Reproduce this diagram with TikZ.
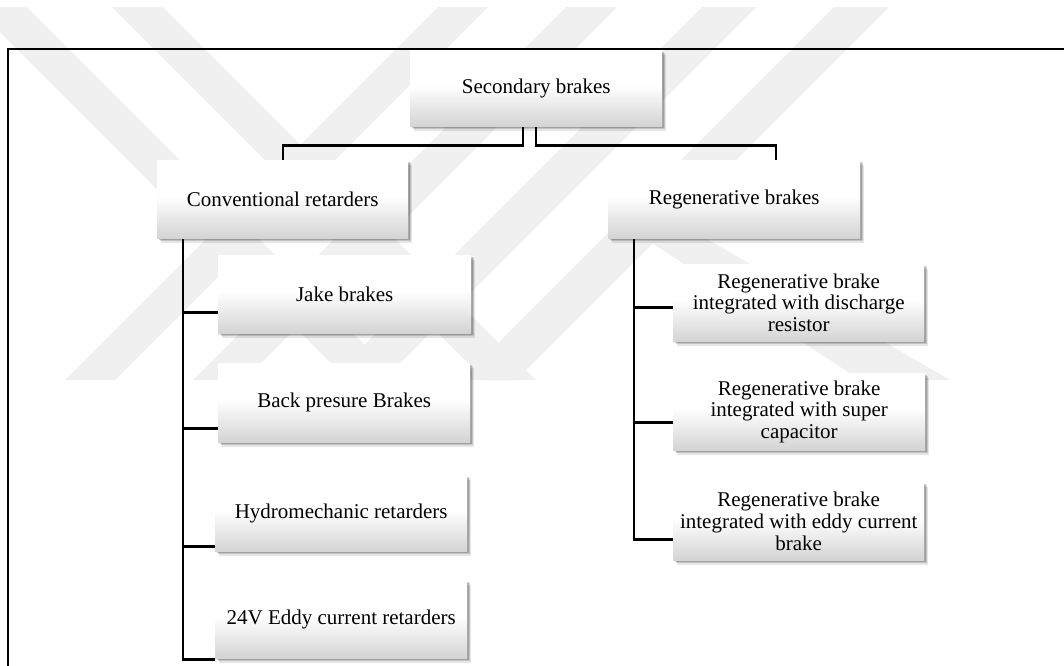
\documentclass[tikz,border=0pt]{standalone}
\usepackage{fontspec}
\setmainfont{Liberation Serif}
\usetikzlibrary{shadows}
\pgfdeclareverticalshading{boxshade}{100bp}{color(0bp)=(black!17); color(25bp)=(black!17); color(52bp)=(white); color(100bp)=(white)}
\pgfdeclarelayer{wm}
\pgfdeclarelayer{background}
\pgfsetlayers{wm,background,main}
\begin{document}
\begin{tikzpicture}[x=1pt,y=1pt,
  box/.style={shade, shading=boxshade, anchor=north west, inner sep=2pt, align=center,
    font=\fontsize{21}{21.7}\selectfont,
    drop shadow={shadow xshift=3.5pt, shadow yshift=-4.5pt, fill=black, opacity=0.10},
    drop shadow={shadow xshift=2.5pt, shadow yshift=-3.2pt, fill=black, opacity=0.14},
    drop shadow={shadow xshift=1.5pt, shadow yshift=-2pt, fill=black, opacity=0.18}},
  conn/.style={line width=2.6pt, line join=miter, draw=black},
  band/.style={fill=black!6, draw=none},
  frameline/.style={line width=1.1pt, draw=black}]
\useasboundingbox (0,0) rectangle (1064,-665);
\clip (0,0) rectangle (1064,-665);

% watermark
\begin{pgfonlayer}{wm}
\fill[white] (0,0) rectangle (1064,-665);
\fill[band] (-25,-7) -- (27,-7) -- (400,-380) -- (348,-380) -- cycle;
\fill[band] (112,-7) -- (163,-7) -- (536,-380) -- (485,-380) -- cycle;
\fill[band] (438,-7) -- (488,-7) -- (115,-380) -- (65,-380) -- cycle;
\fill[band] (566,-7) -- (617,-7) -- (244,-380) -- (193,-380) -- cycle;
\fill[band] (702,-7) -- (756,-7) -- (383,-380) -- (329,-380) -- cycle;
\fill[band] (834,-7) -- (889,-7) -- (516,-380) -- (461,-380) -- cycle;
\fill[band] (640,-235) -- (700,-235) -- (950,-380) -- (860,-380) -- cycle;
\end{pgfonlayer}

% frame
\draw[frameline] (8,-700) -- (8,-49) -- (1070,-49);

% boxes
\node[box, minimum width=252pt, minimum height=76pt] (sec) at (410,-50) {Secondary brakes};
\node[box, minimum width=251pt, minimum height=78pt] (conv) at (157,-160) {Conventional retarders};
\node[box, minimum width=252pt, minimum height=78pt] (regen) at (608,-160) {Regenerative brakes};
\node[box, minimum width=253pt, minimum height=78pt] (jake) at (218,-255) {Jake brakes};
\node[box, minimum width=252pt, minimum height=79pt] (back) at (218,-363) {Back presure Brakes};
\node[box, minimum width=252pt, minimum height=76pt] (hydro) at (215,-475) {Hydromechanic retarders};
\node[box, minimum width=252pt, minimum height=78pt] (eddy) at (215,-580) {24V Eddy current retarders};
\node[box, minimum width=251pt, minimum height=77pt] (rdis) at (673,-264) {Regenerative brake\\integrated with discharge\\resistor};
\node[box, minimum width=252pt, minimum height=77pt] (rsup) at (673,-373) {Regenerative brake\\integrated with super\\capacitor};
\node[box, minimum width=251pt, minimum height=78pt] (reddy) at (673,-482) {Regenerative brake\\integrated with eddy current\\brake};

\coordinate (ctrunk) at ([xshift=26pt]conv.south west);
\coordinate (rtrunk) at ([xshift=26pt]regen.south west);

% connectors
\begin{pgfonlayer}{background}
\draw[conn] ([xshift=113pt]sec.south west) -- ++(0,-19) -| ([xshift=126pt]conv.north west);
\draw[conn] ([xshift=126pt]sec.south west) -- ++(0,-19) -| ([xshift=168pt]regen.north west);
\draw[conn] (ctrunk) |- ([yshift=-1pt]eddy.south west);
\draw[conn] (ctrunk) |- ([yshift=21pt]jake.south west);
\draw[conn] (ctrunk) |- ([yshift=14pt]back.south west);
\draw[conn] (ctrunk) |- ([yshift=5pt]hydro.south west);
\draw[conn] (rtrunk) |- ([yshift=34pt]rdis.south west);
\draw[conn] (rtrunk) |- ([yshift=28pt]rsup.south west);
\draw[conn] (rtrunk) |- ([yshift=21pt]reddy.south west);
\end{pgfonlayer}
\end{tikzpicture}
\end{document}
